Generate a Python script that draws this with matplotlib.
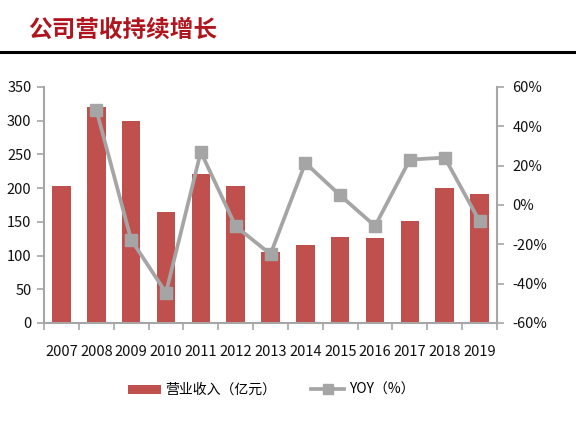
import matplotlib
matplotlib.use('Agg')
import matplotlib.pyplot as plt
from matplotlib.lines import Line2D
from matplotlib.ticker import FuncFormatter, FixedLocator

plt.rcParams['font.family'] = ['Noto Sans CJK SC', 'DejaVu Sans']

# data
years = ['2007', '2008', '2009', '2010', '2011', '2012', '2013',
         '2014', '2015', '2016', '2017', '2018', '2019']
revenue = [203, 320, 299, 165, 221, 203, 106, 115, 128, 126, 151, 200, 191]
yoy_years = years[1:]
yoy = [0.485, -0.176, -0.446, 0.270, -0.108, -0.250,
       0.214, 0.049, -0.107, 0.231, 0.241, -0.083]

bar_color = '#C0504D'
line_color = '#A5A5A5'
axis_gray = '#A6A6A6'

fig = plt.figure(figsize=(5.76, 4.26), dpi=100)
ax = fig.add_axes([44/576, 1-323/426, (497-44)/576, (323-87)/426])

x = list(range(len(years)))
bars = ax.bar(x, revenue, width=0.53, color=bar_color, label='营业收入（亿元）', zorder=2)
ax.set_xlim(-0.5, len(years)-0.5)
ax.set_ylim(0, 350)
ax.set_yticks(range(0, 351, 50))
ax.set_xticks(x)
ax.set_xticklabels(years)
ax.xaxis.set_minor_locator(FixedLocator([i-0.5 for i in range(len(years)+1)]))
ax.tick_params(axis='x', which='major', length=0, pad=16, labelsize=10.5, labelcolor='#111111')
ax.tick_params(axis='x', which='minor', length=5, color=axis_gray, width=1.2)
ax.tick_params(axis='y', length=5, color=axis_gray, width=1.2, labelsize=10.5, labelcolor='#111111', pad=4)
for s in ['top', 'right']:
    ax.spines[s].set_visible(False)
for s in ['left', 'bottom']:
    ax.spines[s].set_color(axis_gray)
    ax.spines[s].set_linewidth(1.5)

ax2 = ax.twinx()
line, = ax2.plot([years.index(y) for y in yoy_years], yoy, color=line_color, lw=2.7,
                 marker='s', markersize=9, label='YOY（%）', zorder=3)
ax2.set_ylim(-0.6, 0.6)
ax2.set_yticks([-0.6, -0.4, -0.2, 0, 0.2, 0.4, 0.6])
ax2.yaxis.set_major_formatter(FuncFormatter(lambda v, p: f'{v*100:.0f}%'))
ax2.tick_params(axis='y', length=5, color=axis_gray, width=1.2, labelsize=10.5, labelcolor='#111111', pad=6)
for s in ['top', 'left', 'bottom']:
    ax2.spines[s].set_visible(False)
ax2.spines['right'].set_color(axis_gray)
ax2.spines['right'].set_linewidth(1.5)

fig.legend([bars, line], ['营业收入（亿元）', 'YOY（%）'], loc='center',
           bbox_to_anchor=(271/576, 1-390/426), ncol=2, frameon=False,
           fontsize=10, handlelength=2.4, handleheight=0.6, markerscale=0.85,
           columnspacing=2.5, handletextpad=0.3)

fig.text(28/576, 1-30/426, '公司营收持续增长', color='#B0151E', fontsize=17,
         fontweight='bold', va='center', ha='left')
fig.add_artist(Line2D([0, 1], [1-52/426, 1-52/426], color='black', lw=2.2,
                      transform=fig.transFigure))

fig.savefig('out.png', dpi=100)
